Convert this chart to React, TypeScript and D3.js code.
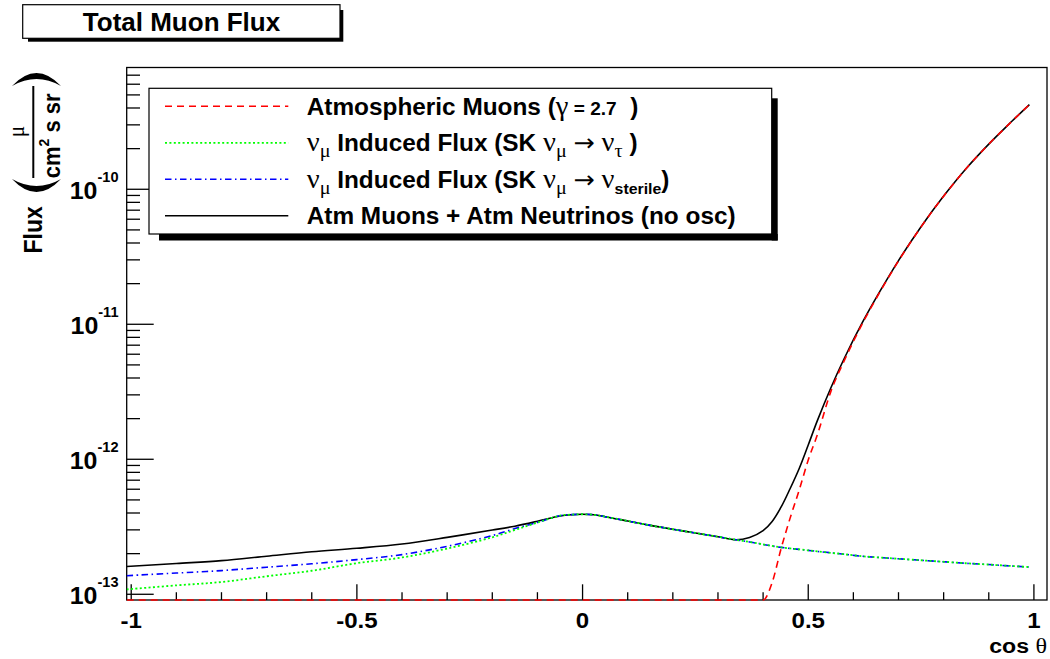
import React from "react";
import * as d3 from "d3";

// cos(theta) sample points
const cosTheta = [-1.01, -0.9, -0.8, -0.7, -0.6, -0.5, -0.4, -0.3, -0.2, -0.15, -0.1, -0.05, -0.025, 0, 0.025, 0.05, 0.1, 0.15, 0.2, 0.25, 0.3, 0.34, 0.37, 0.4, 0.42, 0.44, 0.46, 0.48, 0.5, 0.52, 0.55, 0.58, 0.62, 0.66, 0.7, 0.75, 0.8, 0.85, 0.9, 0.95, 0.99];

// fluxes in units of 1e-13 mu / (cm^2 s sr); 0 = below the axis minimum
const atmMuons = [0, 0, 0, 0, 0, 0, 0, 0, 0, 0, 0, 0, 0, 0, 0, 0, 0, 0, 0, 0, 0, 0, 0, 0, 1.22, 2.19, 3.68, 5.92, 9.88, 15.1, 31.7, 54.0, 101.2, 176.1, 294.6, 526.6, 888.8, 1424, 2159, 3160, 4238];
const nuInducedTau = [1.087, 1.164, 1.233, 1.359, 1.494, 1.7, 1.873, 2.181, 2.644, 2.995, 3.398, 3.82, 3.89, 3.914, 3.88, 3.757, 3.491, 3.239, 3.03, 2.845, 2.667, 2.533, 2.44, 2.342, 2.279, 2.226, 2.185, 2.151, 2.114, 2.078, 2.029, 1.978, 1.912, 1.87, 1.832, 1.786, 1.741, 1.697, 1.66, 1.62, 1.59];
const nuInducedSterile = [1.373, 1.436, 1.498, 1.587, 1.682, 1.807, 1.968, 2.267, 2.722, 3.067, 3.408, 3.82, 3.89, 3.914, 3.88, 3.757, 3.491, 3.239, 3.03, 2.845, 2.667, 2.533, 2.44, 2.342, 2.279, 2.226, 2.185, 2.151, 2.114, 2.078, 2.029, 1.978, 1.912, 1.87, 1.832, 1.786, 1.741, 1.697, 1.66, 1.62, 1.59];
const atmMuonsPlusNuNoOsc = [1.604, 1.691, 1.776, 1.915, 2.064, 2.192, 2.358, 2.639, 2.989, 3.195, 3.473, 3.8, 3.885, 3.914, 3.88, 3.757, 3.491, 3.239, 3.03, 2.845, 2.667, 2.533, 2.634, 2.959, 3.462, 4.434, 6.075, 8.548, 12.76, 19.25, 33.75, 56.0, 103.1, 178.0, 296.4, 528.4, 890.5, 1426, 2161, 3162, 4240];
const FLUX_UNIT = 1e-13;

const xMajorTicks = [-1, -0.5, 0, 0.5, 1];
const xTickLabels = ["-1", "-0.5", "0", "0.5", "1"];
const yDecadeExponents = [-13, -12, -11, -10];
const yTickExpLabels = ["-13", "-12", "-11", "-10"];

const W = 1050;
const H = 659;
const F = { left: 126.7, right: 1047, top: 67.5, bottom: 600 };
const X_DOMAIN: [number, number] = [-1.01, 1.029];
const Y_DOMAIN: [number, number] = [9.07e-14, 7.98e-10];

const SANS = "'Liberation Sans', Arial, Helvetica, sans-serif";
const SERIF = "'Liberation Serif', 'Times New Roman', serif";
const ARROWF = "'DejaVu Sans', sans-serif";

type Seg = { t: string; f?: "sans" | "greek" | "arrow"; size?: number; shift?: number };

function Rich({ x, y, segs, anchor = "start", sx = 1.06, base = 23 }: { x: number; y: number; segs: Seg[]; anchor?: string; sx?: number; base?: number }) {
  let prev = 0;
  return (
    <g transform={`translate(${x},${y}) scale(${sx},1)`}>
      <text x={0} y={0} textAnchor={anchor as any} style={{ whiteSpace: "pre" }}>
        {segs.map((s, i) => {
          const sh = s.shift ?? 0;
          const dy = sh - prev;
          prev = sh;
          const fam = s.f === "greek" ? SERIF : s.f === "arrow" ? ARROWF : SANS;
          const w = s.f === "greek" || s.f === "arrow" ? "normal" : "bold";
          return (
            <tspan key={i} dy={dy} fontFamily={fam} fontWeight={w} fontSize={s.size ?? base}>
              {s.t}
            </tspan>
          );
        })}
      </text>
    </g>
  );
}

const legendRows: { color: string; dash: string; width: number; segs: Seg[] }[] = [
  {
    color: "#ff0000",
    dash: "7,5",
    width: 1.6,
    segs: [{ t: "Atmospheric Muons (" }, { t: "γ", f: "greek", size: 27 }, { t: " = 2.7", size: 18 }, { t: "  )" }],
  },
  {
    color: "#00ff00",
    dash: "2,2.4",
    width: 1.8,
    segs: [
      { t: "ν", f: "greek", size: 27 },
      { t: "μ", f: "greek", size: 19, shift: 6 },
      { t: " Induced Flux (SK " },
      { t: "ν", f: "greek", size: 27 },
      { t: "μ", f: "greek", size: 19, shift: 6 },
      { t: " " },
      { t: "→", f: "arrow", size: 24 },
      { t: " " },
      { t: "ν", f: "greek", size: 27 },
      { t: "τ", f: "greek", size: 19, shift: 6 },
      { t: " )" },
    ],
  },
  {
    color: "#0000ff",
    dash: "6.5,3.5,1.5,3.5",
    width: 1.6,
    segs: [
      { t: "ν", f: "greek", size: 27 },
      { t: "μ", f: "greek", size: 19, shift: 6 },
      { t: " Induced Flux (SK " },
      { t: "ν", f: "greek", size: 27 },
      { t: "μ", f: "greek", size: 19, shift: 6 },
      { t: " " },
      { t: "→", f: "arrow", size: 24 },
      { t: " " },
      { t: "ν", f: "greek", size: 27 },
      { t: "sterile", size: 15, shift: 6 },
      { t: ")" },
    ],
  },
  {
    color: "#000000",
    dash: "",
    width: 1.6,
    segs: [{ t: "Atm Muons + Atm Neutrinos (no osc)" }],
  },
];

export default function App() {
  const x = d3.scaleLinear().domain(X_DOMAIN).range([F.left, F.right]);
  const y = d3.scaleLog().domain(Y_DOMAIN).range([F.bottom, F.top]);
  const yMin = Y_DOMAIN[0];

  const mk = (vals: number[], smooth: boolean) =>
    d3
      .line<number>()
      .x((i) => x(cosTheta[i]))
      .y((i) => y(Math.max(vals[i] * FLUX_UNIT, yMin)))
      .curve(smooth ? d3.curveCatmullRom.alpha(0.5) : d3.curveMonotoneX)(d3.range(cosTheta.length)) as string;

  const series = [
    { vals: atmMuonsPlusNuNoOsc, color: "#000000", dash: "", width: 1.6, smooth: true },
    { vals: nuInducedSterile, color: "#0000ff", dash: "6.5,3.5,1.5,3.5", width: 1.6, smooth: true },
    { vals: nuInducedTau, color: "#00ff00", dash: "2,2.4", width: 1.8, smooth: true },
    { vals: atmMuons, color: "#ff0000", dash: "7,5", width: 1.6, smooth: false },
  ];

  const xMinor = d3.range(-10, 11).map((i) => i / 10).filter((v, i) => (i % 5) !== 0);
  const yMinor: number[] = [];
  for (let e = -14; e <= -10; e++) for (let k = 2; k <= 9; k++) {
    const v = k * Math.pow(10, e);
    if (v >= Y_DOMAIN[0] && v <= Y_DOMAIN[1]) yMinor.push(v);
  }

  const leg = { x1: 149, y1: 88.3, x2: 771.7, y2: 234 };
  const rowY = [106.3, 142.8, 179.2, 215.7];

  return (
    <svg width={W} height={H} style={{ position: "absolute", left: 0, top: 0, background: "#fff" }}>
      <defs>
        <clipPath id="plotclip">
          <rect x={F.left} y={F.top - 2} width={F.right - F.left} height={F.bottom - F.top + 4} />
        </clipPath>
      </defs>
      <rect x={0} y={0} width={W} height={H} fill="#fff" />

      {/* Title box */}
      <rect x={28} y={10} width={315.3} height={31.7} fill="#000" />
      <rect x={22.7} y={4.7} width={317.3} height={33.6} fill="#fff" stroke="#000" strokeWidth={1.2} />
      <text x={181.5} y={30.7} textAnchor="middle" fontFamily={SANS} fontWeight="bold" fontSize={26}>
        Total Muon Flux
      </text>

      {/* Frame */}
      <rect x={F.left} y={F.top} width={F.right - F.left} height={F.bottom - F.top} fill="none" stroke="#000" strokeWidth={1.3} />

      {/* X ticks */}
      {xMajorTicks.map((v) => (
        <line key={"xM" + v} x1={x(v)} x2={x(v)} y1={F.bottom} y2={F.bottom - 15.7} stroke="#000" strokeWidth={1.3} />
      ))}
      {xMinor.map((v) => (
        <line key={"xm" + v} x1={x(v)} x2={x(v)} y1={F.bottom} y2={F.bottom - 7.8} stroke="#000" strokeWidth={1.3} />
      ))}
      {xMajorTicks.map((v, i) => (
        <Rich key={"xl" + v} x={x(v)} y={628} anchor="middle" base={21.5} sx={1.12} segs={[{ t: xTickLabels[i] }]} />
      ))}
      <Rich x={F.right} y={652.5} anchor="end" base={21} sx={1.1} segs={[{ t: "cos " }, { t: "θ", f: "greek", size: 22 }]} />

      {/* Y ticks */}
      {yDecadeExponents.map((e) => (
        <line key={"yM" + e} x1={F.left} x2={F.left + 27} y1={y(Math.pow(10, e))} y2={y(Math.pow(10, e))} stroke="#000" strokeWidth={1.3} />
      ))}
      {yMinor.map((v, i) => (
        <line key={"ym" + i} x1={F.left} x2={F.left + 13.3} y1={y(v)} y2={y(v)} stroke="#000" strokeWidth={1.3} />
      ))}
      {yDecadeExponents.map((e, i) => (
        <Rich
          key={"yl" + e}
          x={118.5}
          y={y(Math.pow(10, e)) + 10}
          anchor="end"
          sx={1.04}
          base={24}
          segs={[{ t: "10" }, { t: yTickExpLabels[i], size: 14, shift: -17 }]}
        />
      ))}

      {/* Y axis title */}
      <g transform="translate(42,253.5) rotate(-90) scale(1,1.12)">
        <text x={0} y={0} fontFamily={SANS} fontWeight="bold" fontSize={23}>Flux</text>
      </g>
      <path d="M 12,179 Q 36.5,205 61,179 Q 36.5,193 12,179 Z" fill="#000" />
      <path d="M 12,86 Q 36.5,60 61,86 Q 36.5,72 12,86 Z" fill="#000" />
      <line x1={33.3} x2={33.3} y1={86} y2={178} stroke="#000" strokeWidth={2} />
      <g transform="translate(24,131.7) rotate(-90) scale(1,1.1)">
        <text x={0} y={0} textAnchor="middle" fontFamily={SERIF} fontSize={21}>μ</text>
      </g>
      <g transform="translate(60,178.3) rotate(-90) scale(1,1.1)">
        <text x={0} y={0} fontFamily={SANS} fontWeight="bold" fontSize={22} style={{ whiteSpace: "pre" }}>
          <tspan>cm</tspan>
          <tspan fontSize={14} dy={-10}>2</tspan>
          <tspan dy={10}> s sr</tspan>
        </text>
      </g>

      {/* Curves */}
      <g clipPath="url(#plotclip)">
        {series.map((s, i) => (
          <path key={i} d={mk(s.vals, s.smooth)} fill="none" stroke={s.color} strokeWidth={s.width} strokeDasharray={s.dash || undefined} />
        ))}
      </g>

      {/* Legend */}
      <rect x={leg.x2} y={leg.y1 + 10} width={6} height={leg.y2 - leg.y1 - 10 + 6.5} fill="#000" />
      <rect x={leg.x1 + 10} y={leg.y2} width={leg.x2 - leg.x1 - 10 + 6} height={6.5} fill="#000" />
      <rect x={leg.x1} y={leg.y1} width={leg.x2 - leg.x1} height={leg.y2 - leg.y1} fill="#fff" stroke="#000" strokeWidth={1.2} />
      {legendRows.map((r, i) => (
        <g key={"lg" + i}>
          <line x1={165} x2={288.3} y1={rowY[i]} y2={rowY[i]} stroke={r.color} strokeWidth={r.width} strokeDasharray={r.dash || undefined} />
          <Rich x={306.7} y={rowY[i] + 8.5} segs={r.segs} />
        </g>
      ))}
    </svg>
  );
}
